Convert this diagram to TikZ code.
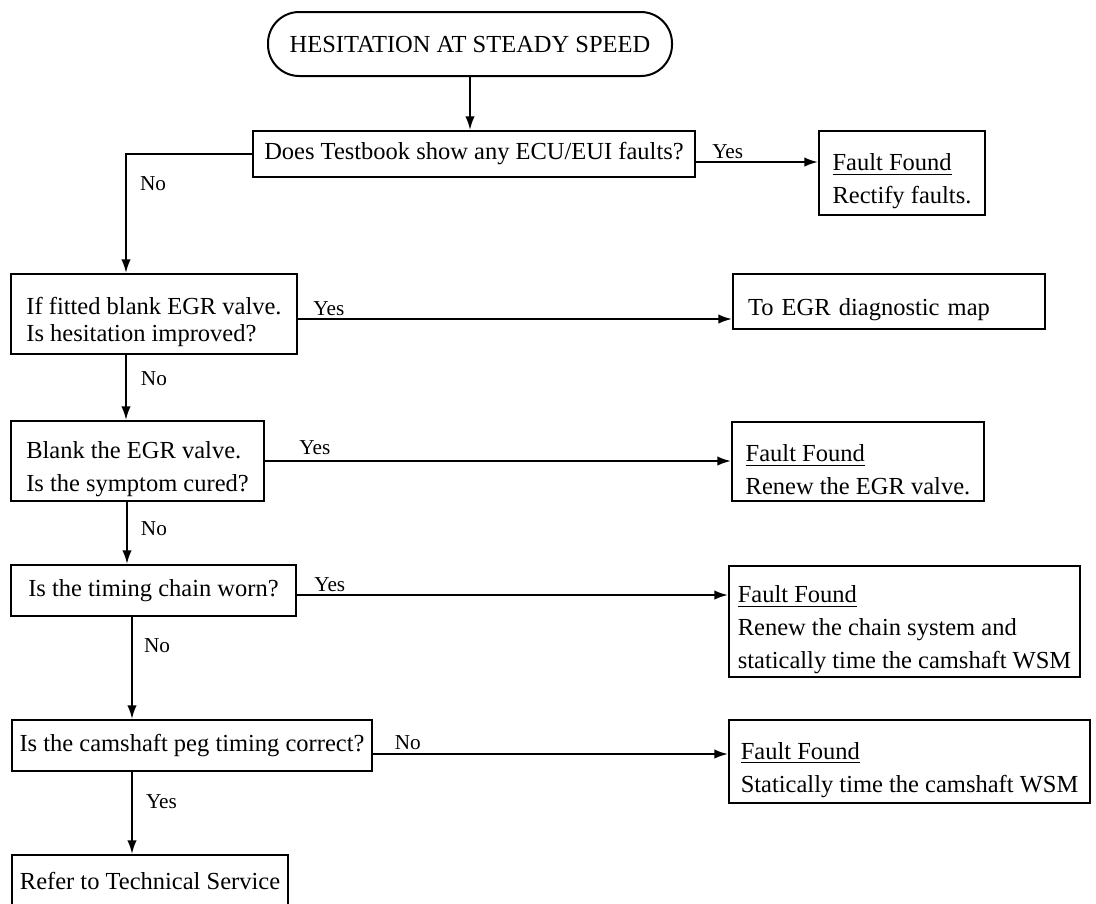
\documentclass[tikz,border=0pt]{standalone}
\usepackage{fontspec}
\setmainfont{Liberation Serif}
\usetikzlibrary{arrows.meta,calc}
\newcommand{\topstrut}{\rule{0pt}{13.5pt}}

\begin{document}
\begin{tikzpicture}[
                x=0.4pt, y=-0.4pt,
                font=\fontsize{9.8}{13.2}\selectfont,
                >=Latex,
                box/.style={draw, line width=0.8pt, anchor=north west, align=center, inner xsep=2pt, inner ysep=0pt},
                startbox/.style={box, rounded corners=12.5pt},
                line/.style={-{Latex[length=5.5pt,width=3.8pt]}, line width=0.8pt},
                lbl/.style={font=\fontsize{8.5}{10}\selectfont, inner sep=0pt},
            ]
            \useasboundingbox (0,0) rectangle (1096,903);

            % ----- Left column (questions) -----
            \node[startbox, minimum width=161.6pt, minimum height=25.6pt] (start) at (267,11) {HESITATION AT STEADY SPEED};
            \node[box, minimum width=176.8pt, minimum height=18.4pt] (q1) at (252,130) {Does Testbook show any ECU/EUI faults?};
            \node[box, align=left, font=\fontsize{9.8}{10.8}\selectfont, minimum width=114.4pt, minimum height=32pt] (q2) at (10,273) {\topstrut If fitted blank EGR valve.\\Is hesitation improved?};
            \node[box, align=left, minimum width=101.2pt, minimum height=32pt] (q3) at (10,420) {\topstrut Blank the EGR valve.\\Is the symptom cured?};
            \node[box, minimum width=114pt, minimum height=20.4pt] (q4) at (10,564) {Is the timing chain worn?};
            \node[box, minimum width=144pt, minimum height=20.4pt] (q5) at (11,719) {Is the camshaft peg timing correct?};
            \node[box, minimum width=110.4pt, minimum height=20.4pt] (q6) at (11,854) {Refer to Technical Service};

            % ----- Right column (results) -----
            \node[box, align=left, minimum width=66.4pt, minimum height=33.6pt] (f1) at (818,130) {\topstrut\underline{Fault Found}\\Rectify faults.};
            \node[box, align=left, inner xsep=6pt, text width=112.8pt, minimum height=22pt] (egr) at (732,273) {\topstrut To EGR diagnostic map};
            \node[box, align=left, minimum width=100.8pt, minimum height=31.6pt] (f2) at (731,421) {\topstrut\underline{Fault Found}\\Renew the EGR valve.};
            \node[box, align=left, minimum width=140.4pt, minimum height=44.4pt] (f3) at (728,565) {\topstrut\underline{Fault Found}\\Renew the chain system and\\statically time the camshaft WSM};
            \node[box, align=left, minimum width=144.4pt, minimum height=33.2pt] (f4) at (728,719) {\topstrut\underline{Fault Found}\\Statically time the camshaft WSM};

            % start -> q1
            \draw[line] (start.south) -- (start.south |- q1.north);

            % q1
            \coordinate (y1) at ($(q1.east)+(0,8)$);
            \draw[line] (y1) -- node[lbl, above=1pt, pos=0.26] {Yes} (y1 -| f1.west);
            \coordinate (n1) at ($(q2.north west)+(116,0)$);
            \draw[line] (q1.west) -| node[lbl, right=5.2pt, pos=0.625] {No} (n1);

            % q2
            \coordinate (y2) at ($(q2.east)+(0,5)$);
            \draw[line] (y2) -- node[lbl, above=1pt, pos=0.071] {Yes} (y2 -| egr.west);
            \coordinate (n2) at ($(q2.south west)+(116,0)$);
            \draw[line] (n2) -- node[lbl, right=5.6pt, pos=0.36] {No} (n2 |- q3.north);

            % q3
            \draw[line] (q3.east) -- node[lbl, above=2pt, pos=0.107] {Yes} (q3.east -| f2.west);
            \coordinate (n3) at ($(q3.south west)+(117,0)$);
            \draw[line] (n3) -- node[lbl, right=5.2pt, pos=0.43] {No} (n3 |- q4.north);

            % q4
            \coordinate (y4) at ($(q4.east)+(0,4.5)$);
            \draw[line] (y4) -- node[lbl, above=1pt, pos=0.076] {Yes} (y4 -| f3.west);
            \coordinate (n4) at ($(q4.south west)+(122,0)$);
            \draw[line] (n4) -- node[lbl, right=4.4pt, pos=0.28] {No} (n4 |- q5.north);

            % q5
            \coordinate (n5) at ($(q5.east)+(0,8.5)$);
            \draw[line] (n5) -- node[lbl, above=1.5pt, pos=0.098] {No} (n5 -| f4.west);
            \coordinate (y5) at ($(q5.south west)+(121,0)$);
            \draw[line] (y5) -- node[lbl, right=5.2pt, pos=0.36] {Yes} (y5 |- q6.north);

\end{tikzpicture}
\end{document}
